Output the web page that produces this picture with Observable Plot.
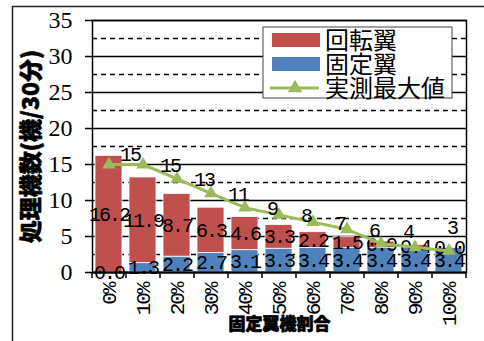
<!DOCTYPE html>
<html>
<head>
<meta charset="utf-8">
<script src="https://cdn.jsdelivr.net/npm/d3@7"></script>
<script src="https://cdn.jsdelivr.net/npm/@observablehq/plot@0.6"></script>
<style>
  body { margin: 0; background: #fff; }
  /* monospaced value labels are set slightly tighter */
  svg g[font-family="Liberation Mono"] { letter-spacing: -2px; }
</style>
</head>
<body>
<div id="chart"></div>
<script>
// Share of fixed-wing aircraft (x categories)
const ratios = ["0%", "10%", "20%", "30%", "40%", "50%", "60%", "70%", "80%", "90%", "100%"];
// Aircraft handled per 30 minutes, by type
const rotary = [16.2, 11.9, 8.7, 6.3, 4.6, 3.3, 2.2, 1.5, 0.9, 0.4, 0.0];
const fixedWing = [0.0, 1.3, 2.2, 2.7, 3.1, 3.3, 3.4, 3.4, 3.4, 3.4, 3.4];
// Observed maximum
const observedMax = [15, 15, 13, 11, 9, 8, 7, 6, 4, 3.5, 3];
// Series names
const seriesNames = ["回転翼", "固定翼", "実測最大値"];
// Axis ticks
const majorTicks = [0, 5, 10, 15, 20, 25, 30, 35];
const minorTicks = [2.5, 7.5, 12.5, 17.5, 22.5, 27.5, 32.5];

const colors = {rotary: "#C0504D", fixed: "#4F81BD", max: "#9BBB59"};

// fixed-wing at the bottom of each stack, rotary-wing on top
const stacked = ratios.flatMap((r, i) => [
  {ratio: r, type: seriesNames[1], value: fixedWing[i]},
  {ratio: r, type: seriesNames[0], value: rotary[i]}
]);
const maxRows = ratios.map((r, i) => ({ratio: r, value: observedMax[i]}));

// hand-placed label nudges for the observed-maximum line
const nudge = {"0%": [-6, -11], "80%": [0, -13], "100%": [-24, -24]};
const maxLabels = maxRows.filter(d => d.ratio !== "90%");

const mono = "Liberation Mono";

const plot = Plot.plot({
  width: 484,
  height: 341,
  marginLeft: 92,
  marginRight: 18,
  marginTop: 20,
  marginBottom: 69,
  style: {fontFamily: "Liberation Sans", background: "transparent", color: "#000", overflow: "visible"},
  x: {domain: ratios, paddingInner: 0.2, paddingOuter: 0.1, label: null},
  y: {domain: [0, 35], label: null},
  color: {domain: [seriesNames[0], seriesNames[1]], range: [colors.rotary, colors.fixed]},
  marks: [
    Plot.ruleY(minorTicks, {stroke: "#000", strokeWidth: 1.3, strokeDasharray: "5,4"}),
    Plot.ruleY(majorTicks, {stroke: "#000", strokeWidth: 1.3}),
    Plot.barY(stacked, {x: "ratio", y: "value", fill: "type", stroke: "#fff", strokeWidth: 0.8}),
    Plot.frame({stroke: "#000", strokeWidth: 1.5}),
    Plot.ruleY([0], {stroke: "#000", strokeWidth: 2.2}),
    // category boundary ticks below the baseline
    Plot.ruleX(ratios, {x: d => d, y1: 0, y2: 0, insetTop: 6, dx: -17, stroke: "#000", strokeWidth: 1.5}),
    Plot.ruleX(ratios.slice(-1), {x: d => d, y1: 0, y2: 0, insetTop: 6, dx: 17, stroke: "#000", strokeWidth: 1.5}),
    Plot.axisY({ticks: majorTicks, tickSize: 7, tickPadding: 13, strokeWidth: 1.5,
      fontFamily: "Liberation Serif", fontSize: 24, label: null}),
    Plot.axisX({tickSize: 0, tickPadding: 11, tickRotate: -90,
      fontFamily: mono, fontSize: 21, label: null}),
    // stacked segment values
    Plot.text(stacked, Plot.stackY({x: "ratio", y: "value", text: d => d.value.toFixed(1),
      fontFamily: mono, fontSize: 20, fill: "#000"})),
    // observed maximum line
    Plot.line(maxRows, {x: "ratio", y: "value", stroke: colors.max, strokeWidth: 3}),
    Plot.dot(maxRows, {x: "ratio", y: "value", symbol: "triangle", r: 5, fill: colors.max}),
    Plot.text(maxLabels, {x: "ratio", y: "value", text: d => String(Math.round(d.value)),
      dx: 27, dy: 1, fontFamily: mono, fontSize: 20, fill: "#000"}),
    // axis titles
    Plot.text(["固定翼機割合"], {frameAnchor: "bottom", dy: 57, textAnchor: "middle", fontFamily: "Noto Sans CJK JP",
      fontWeight: 900, fontSize: 17, fill: "#000", stroke: "#000", strokeWidth: 0.7}),
    Plot.text(["処理機数(機/30分)"], {frameAnchor: "left", textAnchor: "middle", dx: -61, rotate: -90,
      fontFamily: "Noto Sans CJK JP", fontWeight: 900, fontSize: 23, fill: "#000", stroke: "#000", strokeWidth: 0.6})
  ]
});

const svg = d3.select(plot);

// tick label typefaces
svg.selectAll('g[aria-label^="y-axis tick label"], g[aria-label^="y-axis tick label"] text')
  .style("font-family", "'Liberation Serif', serif").style("font-size", "24px").style("letter-spacing", "0px");
svg.selectAll('g[aria-label^="x-axis tick label"], g[aria-label^="x-axis tick label"] text')
  .style("font-family", "'Liberation Mono', monospace").style("font-size", "21px").style("letter-spacing", "-2px");

// apply hand-placed nudges to the observed-maximum labels
const textGroups = svg.selectAll('g[aria-label="text"]').nodes();
const maxLabelGroup = d3.select(textGroups[1]);
maxLabelGroup.selectAll("text").each(function (_, i) {
  const n = nudge[maxLabels[i].ratio];
  if (n) d3.select(this).attr("dx", n[0]).attr("dy", n[1]);
});

// chart-area border (top and left edges)
svg.append("path")
  .attr("d", "M12.5,341V6.5H484")
  .attr("fill", "none")
  .attr("stroke", "#222")
  .attr("stroke-width", 1.5);

// legend
const lg = svg.append("g").attr("transform", "translate(263,27)");
lg.append("rect").attr("width", 189).attr("height", 71)
  .attr("fill", "#fff").attr("stroke", "#444").attr("stroke-width", 1);
const rowY = [13, 37, 61];
lg.append("rect").attr("x", 9).attr("y", rowY[0] - 7).attr("width", 48).attr("height", 14).attr("fill", colors.rotary);
lg.append("rect").attr("x", 9).attr("y", rowY[1] - 7).attr("width", 48).attr("height", 14).attr("fill", colors.fixed);
lg.append("line").attr("x1", 7).attr("x2", 56).attr("y1", rowY[2]).attr("y2", rowY[2])
  .attr("stroke", colors.max).attr("stroke-width", 3);
lg.append("path").attr("d", d3.symbol(d3.symbolTriangle, 90)())
  .attr("transform", `translate(32,${rowY[2]})`).attr("fill", colors.max);
seriesNames.forEach((name, i) => {
  lg.append("text").attr("x", 62).attr("y", rowY[i]).attr("dy", "0.36em")
    .attr("text-anchor", "start")
    .attr("font-family", "Noto Sans CJK JP").attr("font-size", 24).attr("fill", "#000")
    .text(name);
});

document.getElementById("chart").appendChild(plot);
</script>
</body>
</html>
